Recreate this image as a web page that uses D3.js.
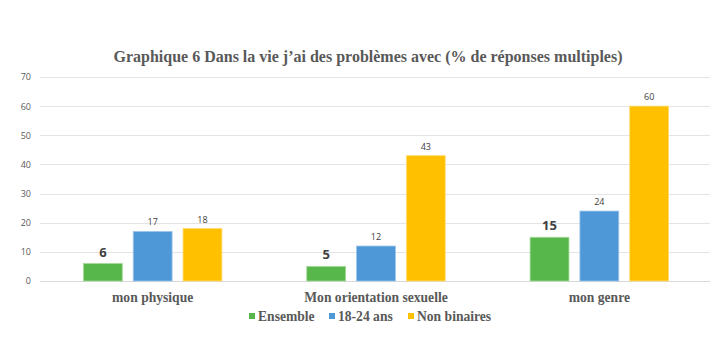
<!DOCTYPE html>
<html>
<head>
<meta charset="utf-8">
<script src="https://cdn.jsdelivr.net/npm/d3@7"></script>
<style>
  body { margin: 0; background: #fff; }
</style>
</head>
<body>
<script>
// chart values
var categories = ["mon physique", "Mon orientation sexuelle", "mon genre"];
var series = ["Ensemble", "18-24 ans", "Non binaires"];
var ensemble = [6, 5, 15];
var jeunes = [17, 12, 24];
var nonBinaires = [18, 43, 60];
var yTicks = [0, 10, 20, 30, 40, 50, 60, 70];

var colors = ["#57b74a", "#4f98d8", "#ffc000"];
var borders = ["#a3da97", "#9cc5ea", "#ffdb70"];

var w = 713, h = 352;
var pad = { top: 77, bottom: 71, left: 41, right: 2 };

var values = [ensemble, jeunes, nonBinaires];

var svg = d3.select("body")
            .append("svg")
            .attr("width", w)
            .attr("height", h);

// scales
var x0 = d3.scaleBand()
           .domain(categories)
           .range([pad.left, w - pad.right])
           .paddingInner(0.38)
           .paddingOuter(0.19);

var x1 = d3.scaleBand()
           .domain(series)
           .range([0, x0.bandwidth()])
           .paddingInner(0.22);

var y = d3.scaleLinear()
          .domain([0, 70])
          .range([h - pad.bottom, pad.top]);

// gridlines
svg.append("g")
   .selectAll("line")
   .data(yTicks)
   .enter()
   .append("line")
   .attr("x1", pad.left - 1)
   .attr("x2", w - 3)
   .attr("y1", function(d) { return Math.round(y(d)) + 0.5; })
   .attr("y2", function(d) { return Math.round(y(d)) + 0.5; })
   .attr("stroke", function(d) { return d == 0 ? "#d9d9d9" : "#e4e4e4"; })
   .attr("stroke-width", 1);

// y tick labels
var yAxis = d3.axisLeft(y).tickValues(yTicks).tickSize(0).tickPadding(0);
var gy = svg.append("g")
   .attr("transform", "translate(31,0)")
   .call(yAxis);
gy.select(".domain").remove();
gy.selectAll("text")
  .attr("font-family", "'Open Sans', sans-serif")
  .attr("font-size", "9px")
  .attr("fill", "#595959");

// bars
var groups = svg.selectAll(".grp")
   .data(categories)
   .enter()
   .append("g")
   .attr("class", "grp")
   .attr("transform", function(d) { return "translate(" + x0(d) + ",0)"; });

groups.selectAll("rect")
   .data(function(d, i) {
       return series.map(function(s, j) { return { s: s, j: j, v: values[j][i] }; });
   })
   .enter()
   .append("rect")
   .attr("x", function(d) { return x1(d.s); })
   .attr("y", function(d) { return y(d.v); })
   .attr("width", x1.bandwidth())
   .attr("height", function(d) { return y(0) - y(d.v); })
   .attr("fill", function(d) { return colors[d.j]; })
   .attr("stroke", function(d) { return borders[d.j]; })
   .attr("stroke-width", 0.8);

// value labels
groups.selectAll(".lbl")
   .data(function(d, i) {
       return series.map(function(s, j) { return { s: s, j: j, v: values[j][i] }; });
   })
   .enter()
   .append("text")
   .attr("class", "lbl")
   .attr("x", function(d) { return x1(d.s) + x1.bandwidth() / 2; })
   .attr("y", function(d) { return y(d.v) - (d.j == 0 ? 7 : 6); })
   .attr("text-anchor", "middle")
   .attr("font-family", "'Open Sans', sans-serif")
   .attr("font-size", function(d) { return d.j == 0 ? "13px" : "9px"; })
   .attr("font-weight", function(d) { return d.j == 0 ? "bold" : "normal"; })
   .attr("fill", "#404040")
   .text(function(d) { return d.v; });

// category labels
svg.selectAll(".cat")
   .data(categories)
   .enter()
   .append("text")
   .attr("class", "cat")
   .attr("x", function(d) { return x0(d) + x0.bandwidth() / 2; })
   .attr("y", 302)
   .attr("text-anchor", "middle")
   .attr("font-family", "'Liberation Serif', serif")
   .attr("font-weight", "bold")
   .attr("font-size", "13.6px")
   .attr("fill", "#595959")
   .text(function(d) { return d; });

// title
svg.append("text")
   .attr("x", 368)
   .attr("y", 62)
   .attr("text-anchor", "middle")
   .attr("font-family", "'Liberation Serif', serif")
   .attr("font-weight", "bold")
   .attr("font-size", "16px")
   .attr("fill", "#595959")
   .text("Graphique 6 Dans la vie j\u2019ai des probl\u00e8mes avec (% de r\u00e9ponses multiples)");

// legend
var legendX = [249, 329, 408];
var legend = svg.selectAll(".leg")
   .data(series)
   .enter()
   .append("g")
   .attr("class", "leg")
   .attr("transform", function(d, i) { return "translate(" + legendX[i] + ",313)"; });

legend.append("rect")
   .attr("x", 0)
   .attr("y", 0)
   .attr("width", 6)
   .attr("height", 6)
   .attr("fill", function(d, i) { return colors[i]; });

legend.append("text")
   .attr("x", 9)
   .attr("y", 7.5)
   .attr("font-family", "'Liberation Serif', serif")
   .attr("font-weight", "bold")
   .attr("font-size", "13.6px")
   .attr("fill", "#595959")
   .text(function(d) { return d; });
</script>
</body>
</html>
